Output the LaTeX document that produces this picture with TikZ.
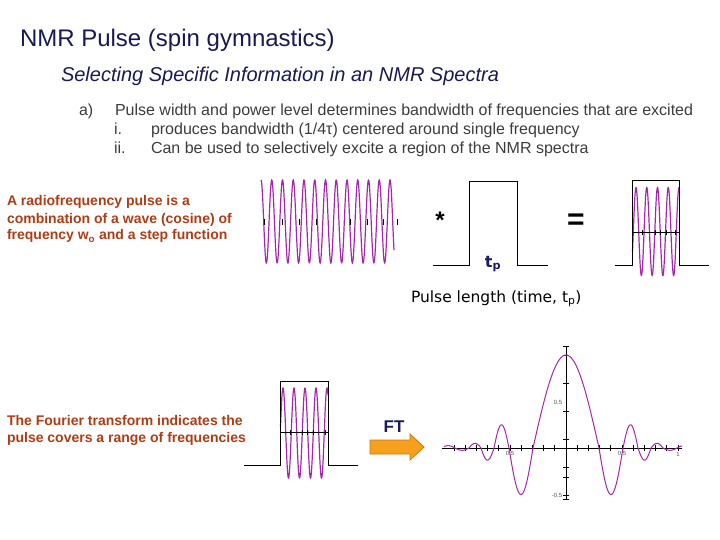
\documentclass[tikz,border=0pt]{standalone}
\usepackage{fontspec}
\setmainfont{Liberation Sans}
\newfontfamily\dejavu{DejaVu Sans}
\definecolor{navy}{RGB}{25,25,85}
\definecolor{ftnavy}{RGB}{25,25,100}
\definecolor{itemgray}{RGB}{60,60,60}
\definecolor{redtext}{RGB}{175,60,20}
\definecolor{wavec}{RGB}{165,40,170}
\definecolor{arrowfill}{RGB}{247,160,30}
\definecolor{arrowedge}{RGB}{205,115,20}
\definecolor{ticklabel}{RGB}{90,90,90}
\tikzset{
  txt/.style={anchor=base west, inner sep=0pt, outer sep=0pt},
  itemtxt/.style={txt, text=itemgray, font=\fontsize{16}{18}\selectfont},
  redtxt/.style={txt, text=redtext, font=\fontsize{14}{16}\selectfont\bfseries},
  wave/.style={draw=wavec, line width=1.2pt},
  pulseline/.style={draw=black, line width=1pt},
  axisline/.style={draw=black, line width=0.9pt},
  tick/.style={draw=black, line width=0.8pt},
  tiny/.style={inner sep=0pt, font=\fontsize{6}{6}\selectfont, text=ticklabel},
  declare function={
    sincish(\u) = (abs(\u)<=33) ? cos(\u*2.7273) :
      ((abs(\u)<=57) ? -0.5*sin((abs(\u)-33)*7.5) :
      ((abs(\u)<=72) ? 0.25*sin((abs(\u)-57)*12) :
      ((abs(\u)<=85) ? -0.13*sin((abs(\u)-72)*13.846) :
      ((abs(\u)<=97) ? 0.05*sin((abs(\u)-85)*15) :
      -0.025*sin((abs(\u)-97)*12.857)))));
  }
}
\begin{document}
\begin{tikzpicture}[x=1pt,y=-1pt]
\useasboundingbox (0,0) rectangle (720,540);

% ---------- texts ----------
\node[txt, text=navy, font=\fontsize{24}{27}\selectfont] (title) at (20,47) {NMR Pulse (spin gymnastics)};
\node[txt, text=navy, font=\fontsize{20}{23}\selectfont\itshape] (sub) at (61,82) {Selecting Specific Information in an NMR Spectra};

\node[itemtxt] (la) at (79,116) {a)};
\node[itemtxt] (ta) at (115,116) {Pulse width and power level determines bandwidth of frequencies that are excited};
\node[itemtxt] (li) at (114,135) {i.};
\node[itemtxt] (ti) at (151,135) {produces bandwidth (1/4τ) centered around single frequency};
\node[itemtxt] (lii) at (114,154) {ii.};
\node[itemtxt] (tii) at (151,154) {Can be used to selectively excite a region of the NMR spectra};

\node[redtxt] (r1) at (7,206) {A radiofrequency pulse is a};
\node[redtxt] (r2) at (7,223) {combination of a wave (cosine) of};
\node[redtxt] (r3) at (7,240) {frequency w\textsubscript{o} and a step function};

\node[redtxt] (f1) at (7,425) {The Fourier transform indicates the};
\node[redtxt] (f2) at (7,442) {pulse covers a range of frequencies};

% ---------- cosine wave ----------
\draw[wave] plot[domain=261:394, samples=500] (\x, {221.5-41.5*cos((\x-261)*33.488)});
\foreach \tx in {264,282,299,316,350,367,383,397}
  \draw[tick] (\tx,219) -- (\tx,225);

\node[inner sep=0pt, font=\fontsize{24}{24}\selectfont\bfseries] (star) at (440,220) {*};

% ---------- step function ----------
\draw[pulseline] (433,265) -- (469,265) -- (469,182) -- (517,182) -- (517,265) -- (548,265);
\node[inner sep=0pt, text=ftnavy, font=\dejavu\bfseries\fontsize{16}{16}\selectfont, anchor=base] (tp) at (493,267) {t\textsubscript{p}};
\node[txt, font=\dejavu\fontsize{15.5}{18}\selectfont] (plen) at (411,302) {Pulse length (time, t\textsubscript{p})};

\node[inner sep=0pt, font=\fontsize{30}{30}\selectfont\bfseries] (eq) at (576,222) {=};

% ---------- product (right) ----------
\draw[wave] plot[domain=632.5:679, samples=250] (\x, {231.5-44*cos((\x-636)*33.488)});
\draw[pulseline] (615,265) -- (632,265) -- (632,181) -- (679,181) -- (679,265) -- (709,265);
\draw[axisline] (632,232) -- (679,232);
\foreach \tx in {642,655,660,666,675}
  \draw[tick] (\tx,230) -- (\tx,235);

% ---------- product (bottom) ----------
\draw[wave] plot[domain=280.5:328, samples=250] (\x, {433-45*cos((\x-283)*32.727)});
\draw[pulseline] (244,465) -- (280,465) -- (280,381) -- (328,381) -- (328,465) -- (358,465);
\draw[axisline] (280,432) -- (328,432);
\foreach \tx in {290,302,307,313,325}
  \draw[tick] (\tx,430) -- (\tx,435);

% ---------- FT arrow ----------
\node[inner sep=0pt, text=ftnavy, font=\fontsize{17}{17}\selectfont\bfseries] (ft) at (394,427) {FT};
\draw[fill=arrowfill, draw=arrowedge, line width=0.8pt, line join=miter]
  (370,440) -- (410,440) -- (410,434) -- (424,447) -- (410,460) -- (410,454) -- (370,454) -- cycle;

% ---------- sinc-like spectrum ----------
\draw[axisline] (442,448) -- (682,448);
\draw[axisline] (566,346) -- (566,499);
\draw[tick] (563,346) -- (569,346);
\draw[tick] (563,499) -- (569,499);
\foreach \k in {-10,...,10}
  \draw[tick] ({566+11.2*\k},445) -- ({566+11.2*\k},451);
\foreach \ty in {355,383,411,439,467,477,495}
  \draw[tick] (563,\ty) -- (569,\ty);
\draw[wave, line width=1pt] plot[domain=-122:116, samples=600] ({566+\x}, {448-93*sincish(\x)});
\node[tiny] (xl1) at (510,453) {0.5};
\node[tiny] (xl2) at (622,453) {0.5};
\node[tiny] (xl3) at (678,454) {1};
\node[tiny] (yl1) at (558,402) {0.5};
\node[tiny] (yl2) at (557,495) {-0.5};
\end{tikzpicture}
\end{document}
